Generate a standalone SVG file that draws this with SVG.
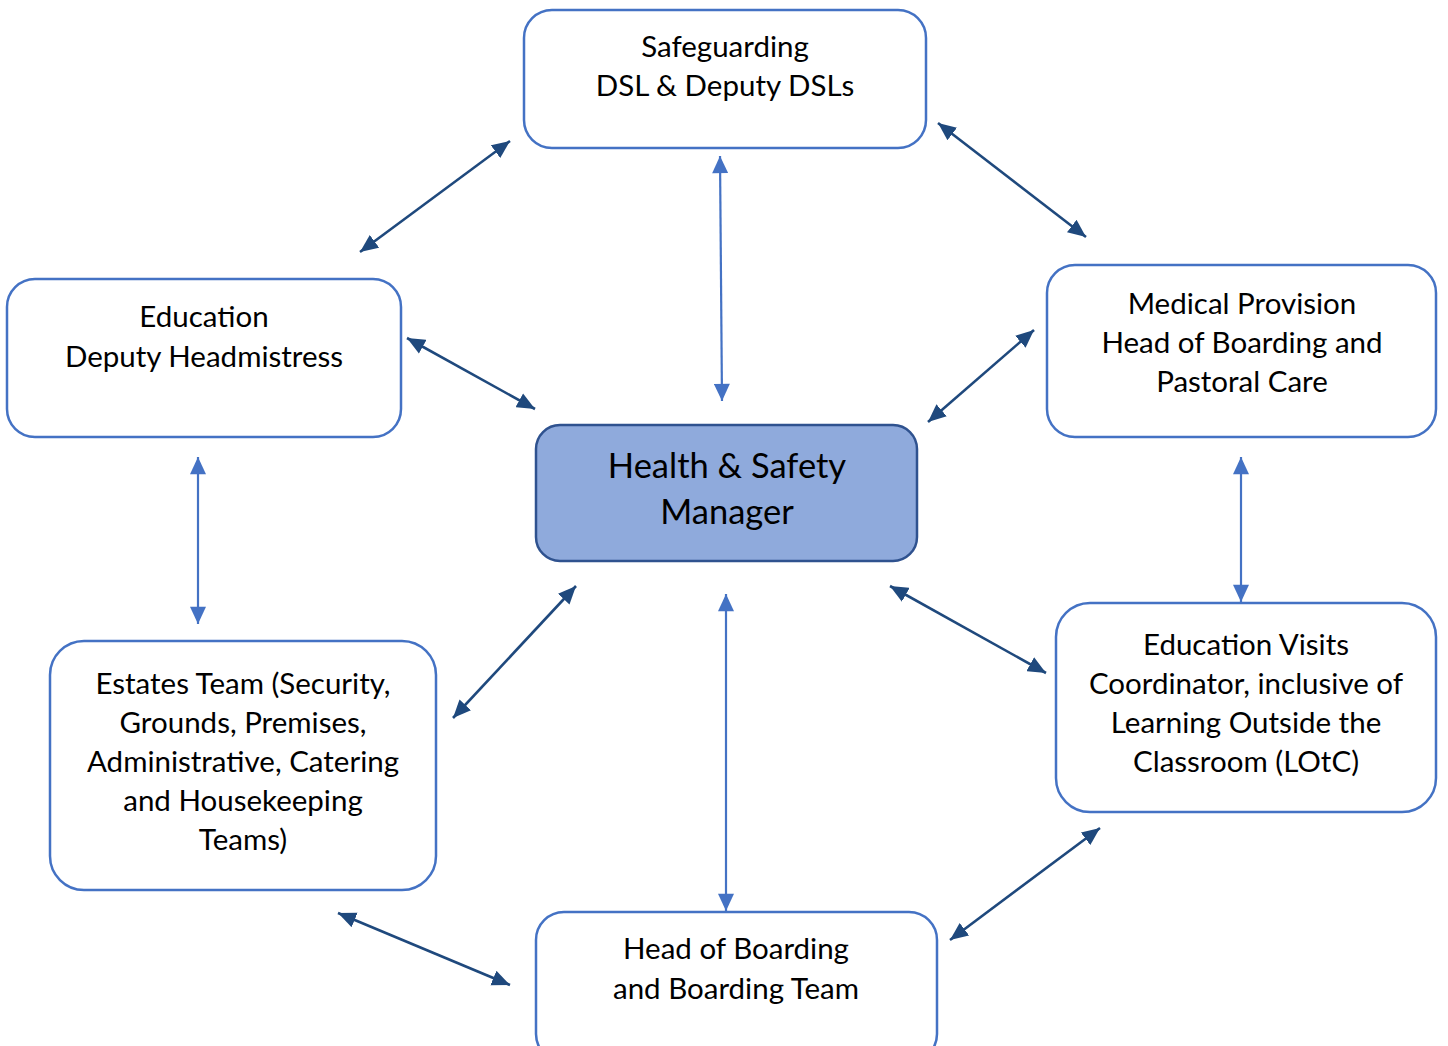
<svg xmlns="http://www.w3.org/2000/svg" width="1448" height="1046" viewBox="0 0 1448 1046">
<style>
.box{fill:#fff;stroke:#4472C4;stroke-width:2.5}
.main{fill:#8FAADC;stroke:#2F528F;stroke-width:2.5}
text{font-family:Lato,"Open Sans","Liberation Sans",sans-serif;font-size:29.5px;fill:#000;text-anchor:middle}
.big{font-size:34.5px}
.dk{stroke:#1F497D;stroke-width:2.6;fill:none;marker-start:url(#ad);marker-end:url(#ad)}
.lt{stroke:#4472C4;stroke-width:2.2;fill:none;marker-start:url(#al);marker-end:url(#al)}
</style>
<defs>
<marker id="ad" markerUnits="userSpaceOnUse" markerWidth="18" markerHeight="16" refX="16" refY="7" orient="auto-start-reverse" viewBox="0 0 16 14"><path d="M0,0 L16,7 L0,14 z" fill="#1F497D"/></marker>
<marker id="al" markerUnits="userSpaceOnUse" markerWidth="18" markerHeight="16" refX="15" refY="7" orient="auto-start-reverse" viewBox="0 0 15 14"><path d="M0,0 L15,7 L0,14 z" fill="#4472C4"/></marker>
</defs>
<rect width="1448" height="1046" fill="#fff"/>
<g id="connectors">
<line class="dk" x1="360" y1="252" x2="510" y2="141"/>
<line class="dk" x1="938" y1="123" x2="1086" y2="237"/>
<line class="dk" x1="407" y1="338" x2="535" y2="409"/>
<line class="dk" x1="928" y1="422" x2="1034" y2="330"/>
<line class="dk" x1="453" y1="718" x2="576" y2="586"/>
<line class="dk" x1="890" y1="586" x2="1046" y2="673"/>
<line class="dk" x1="338" y1="913" x2="510" y2="985"/>
<line class="dk" x1="950" y1="940" x2="1100" y2="828"/>
<line class="lt" x1="720" y1="156" x2="722" y2="401"/>
<line class="lt" x1="198" y1="457" x2="198" y2="624"/>
<line class="lt" x1="1241" y1="457" x2="1241" y2="602"/>
<line class="lt" x1="726" y1="594" x2="726" y2="911"/>
</g>
<g id="safeguarding">
<rect class="box" x="524" y="10" width="402" height="138" rx="28"/>
<text x="725" y="57">Safeguarding</text>
<text x="725" y="96">DSL &amp; Deputy DSLs</text>
</g>
<g id="education">
<rect class="box" x="7" y="279" width="394" height="158" rx="28"/>
<text x="204" y="327">Education</text>
<text x="204" y="367">Deputy Headmistress</text>
</g>
<g id="medical">
<rect class="box" x="1047" y="265" width="389" height="172" rx="28"/>
<text x="1242" y="314">Medical Provision</text>
<text x="1242" y="353">Head of Boarding and</text>
<text x="1242" y="392">Pastoral Care</text>
</g>
<g id="hsm">
<rect class="main" x="536" y="425" width="381" height="136" rx="24"/>
<text class="big" x="727" y="478">Health &amp; Safety</text>
<text class="big" x="727" y="524">Manager</text>
</g>
<g id="estates">
<rect class="box" x="50" y="641" width="386" height="249" rx="34"/>
<text x="243" y="694">Estates Team (Security,</text>
<text x="243" y="733">Grounds, Premises,</text>
<text x="243" y="772">Administrative, Catering</text>
<text x="243" y="811">and Housekeeping</text>
<text x="243" y="850">Teams)</text>
</g>
<g id="visits">
<rect class="box" x="1056" y="603" width="380" height="209" rx="34"/>
<text x="1246" y="655">Education Visits</text>
<text x="1246" y="694">Coordinator, inclusive of</text>
<text x="1246" y="733">Learning Outside the</text>
<text x="1246" y="772">Classroom (LOtC)</text>
</g>
<g id="boarding">
<rect class="box" x="536" y="912" width="401" height="150" rx="28"/>
<text x="736" y="959">Head of Boarding</text>
<text x="736" y="999">and Boarding Team</text>
</g>
</svg>
